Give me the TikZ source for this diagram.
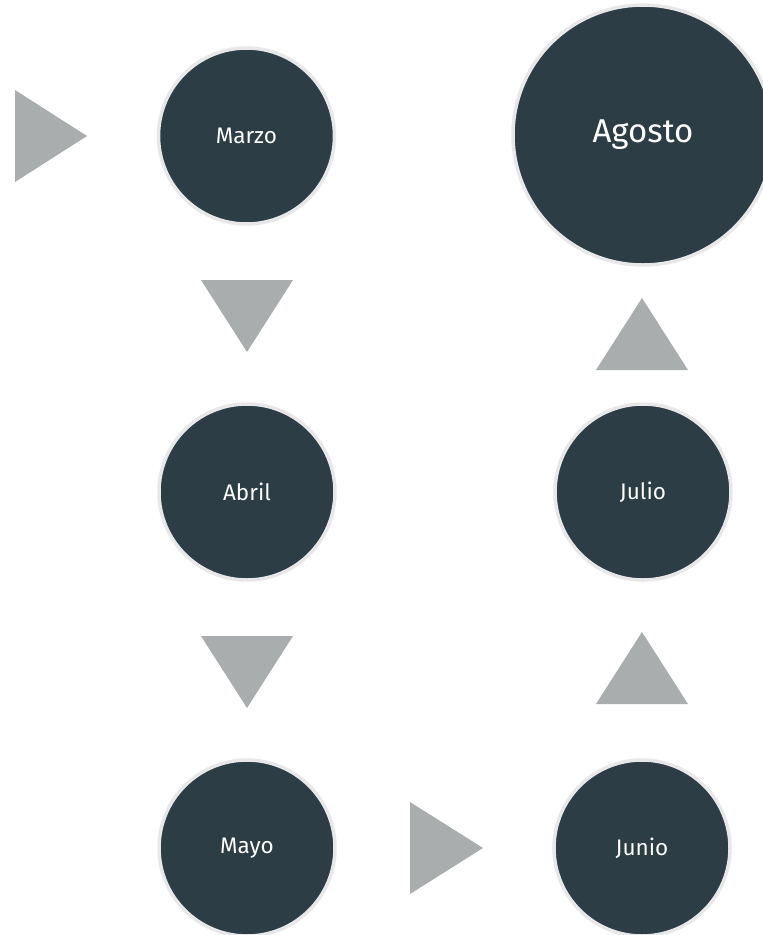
\documentclass[tikz,border=0pt]{standalone}
\usepackage{fontspec}
\setmainfont{Fira Sans}
\usetikzlibrary{positioning}
\definecolor{pizarra}{HTML}{2C3D45}
\definecolor{aro}{HTML}{E8E8E8}
\definecolor{gris}{HTML}{A9ADAD}
\begin{document}
\begin{tikzpicture}[x=1pt, y=-1pt, line join=round,
    mes/.style={circle, fill=pizarra, draw=aro, line width=3.5pt, inner sep=0pt, minimum size=176pt, text=white, font=\fontsize{22.5}{26}\selectfont},
    mesgrande/.style={mes, minimum size=260pt, font=\fontsize{33}{40}\selectfont}]
            \useasboundingbox (0,0) rectangle (763,935);
            \clip (0,0) rectangle (763,935);
            % meses
            \node[mes] (marzo) at (246.5,136) {Marzo};
            \node[mes] (abril) at (247,492) {Abril};
            \node[mes] (mayo) at (247,848) {Mayo};
            \node[mes] (junio) at (642,848) {Junio};
            \node[mes] (julio) at (643,492) {Julio};
            \node[mesgrande] (agosto) at (643,135) {Agosto};
            % flechas
            \fill[gris] (15,90)--(87,136)--(15,182)--cycle;
            \foreach \y in {280,636}\fill[gris] (201,\y)--(293,\y)--(247,\y+72)--cycle;
            \foreach \y in {298,632}\fill[gris] (642,\y)--(688,\y+72)--(596,\y+72)--cycle;
            \fill[gris] (410,802)--(483,848)--(410,894)--cycle;
        \end{tikzpicture}
\end{document}
